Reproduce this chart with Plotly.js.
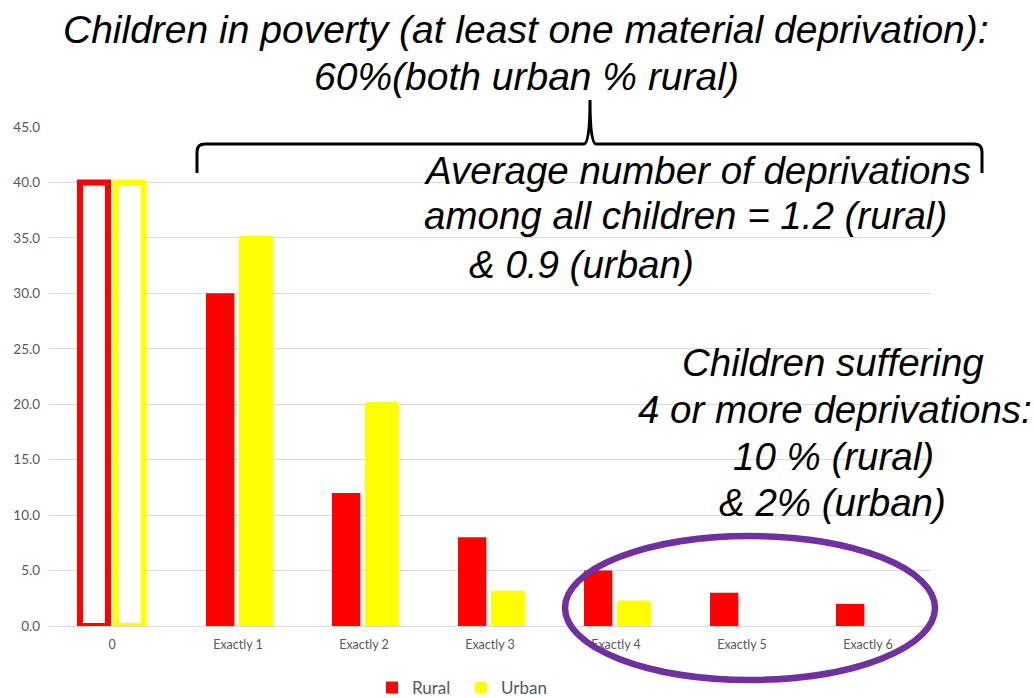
<!DOCTYPE html>
<html>
<head>
<meta charset="utf-8">
<script src="https://cdn.plot.ly/plotly-3.0.1.min.js"></script>
<style>html,body{margin:0;padding:0;background:#fff;}#chart{width:1034px;height:698px;}</style>
</head>
<body>
<div id="chart"></div>
<script>
// ---- data ----
const categories = ['0', 'Exactly 1', 'Exactly 2', 'Exactly 3', 'Exactly 4', 'Exactly 5', 'Exactly 6'];
const rural = [40.0, 30.0, 12.0, 8.0, 5.0, 3.0, 2.0];
const urban = [40.0, 35.2, 20.2, 3.2, 2.3, 0, 0];
const seriesNames = ['Rural', 'Urban'];
const titleLines = ['Children in poverty (at least one material deprivation):', '60%(both urban % rural)'];
const avgLines = ['Average number of deprivations', 'among all children = 1.2 (rural)', '& 0.9 (urban)'];
const sufferLines = ['Children suffering', '4 or more deprivations:', '10 % (rural)', '& 2% (urban)'];
const yTicks = [0, 5, 10, 15, 20, 25, 30, 35, 40, 45];

// ---- layout geometry (pixels of the 1034x698 picture) ----
const W = 1034, H = 698;
const L = 49, R = 931, T = 127, B = 626;
const px = v => (v - L) / (R - L);
const py = v => (B - v) / (B - T);

const RED = '#FF0000', YEL = '#FFFF00', GRID = '#D9D9D9', TXT = '#595959';
const bigFont = {family: 'Liberation Sans, Arial, sans-serif', size: 38.5, color: '#000', style: 'italic'};
const titleFont = Object.assign({}, bigFont, {size: 39});

const traces = [
  {type: 'bar', name: seriesNames[0], x: categories.slice(1), y: rural.slice(1),
   marker: {color: RED}, width: 0.225, offset: -0.254, legend: 'legend', hoverinfo: 'skip'},
  {type: 'bar', name: seriesNames[1], x: categories.slice(1), y: urban.slice(1),
   marker: {color: YEL, cornerradius: 3}, width: 0.272, offset: 0.008, legend: 'legend2', hoverinfo: 'skip'},
  {type: 'bar', name: seriesNames[0], x: categories.slice(0, 1), y: rural.slice(0, 1), showlegend: false,
   marker: {color: '#FFFFFF', line: {color: RED, width: 6}}, width: 0.222, offset: -0.254, hoverinfo: 'skip'},
  {type: 'bar', name: seriesNames[1], x: categories.slice(0, 1), y: urban.slice(0, 1), showlegend: false,
   marker: {color: '#FFFFFF', line: {color: YEL, width: 6}}, width: 0.222, offset: 0.030, hoverinfo: 'skip'}
];

function line(text, cx, cy, font) {
  return {xref: 'paper', yref: 'paper', x: px(cx), y: py(cy), xanchor: 'center', yanchor: 'middle',
          text: text, showarrow: false, font: font || bigFont};
}

const annotations = [
  line(titleLines[0], 526, 30, titleFont),
  line(titleLines[1], 526, 77, titleFont),
  line(avgLines[0], 697, 170),
  line(avgLines[1], 685, 216),
  line(avgLines[2], 581, 264),
  line(sufferLines[0], 833, 362),
  line(sufferLines[1], 835, 409),
  line(sufferLines[2], 833, 456),
  line(sufferLines[3], 832, 502)
];

function pt(x, y) { return px(x).toFixed(5) + ',' + py(y).toFixed(5); }
const bracePath =
  'M' + pt(197, 173) + ' L' + pt(197, 152) + ' Q' + pt(197, 144) + ' ' + pt(205, 144) +
  ' L' + pt(584, 144) + ' Q' + pt(590, 144) + ' ' + pt(590, 100) +
  ' Q' + pt(590, 144) + ' ' + pt(596, 144) +
  ' L' + pt(974, 144) + ' Q' + pt(982, 144) + ' ' + pt(982, 152) + ' L' + pt(982, 173);

const shapes = [
  {type: 'path', xref: 'paper', yref: 'paper', path: bracePath, line: {color: '#000', width: 3}},
  {type: 'circle', xref: 'paper', yref: 'paper', x0: px(565), x1: px(935), y0: py(680), y1: py(536),
   line: {color: '#7030A0', width: 6.5}, layer: 'above'}
];

const layout = {
  width: W, height: H,
  margin: {l: L, r: W - R, t: T, b: H - B, pad: 0, autoexpand: false},
  paper_bgcolor: '#FFFFFF', plot_bgcolor: '#FFFFFF',
  showlegend: true,
  barmode: 'group',
  font: {family: 'Lato, Open Sans, sans-serif', color: TXT},
  xaxis: {type: 'category', categoryorder: 'array', categoryarray: categories, range: [-0.5, 6.5],
          showgrid: false, showline: false, zeroline: false, ticks: '', automargin: false,
          ticklabelstandoff: 9, tickfont: {size: 12.5, color: TXT}, fixedrange: true},
  yaxis: {range: [0, 45], tickvals: yTicks, tickformat: '.1f', showgrid: true, gridcolor: GRID, gridwidth: 1,
          zeroline: true, zerolinecolor: GRID, zerolinewidth: 1, showline: false, ticks: '', automargin: false,
          ticklabelstandoff: 8, tickfont: {size: 13.5, color: TXT}, fixedrange: true},
  legend: {orientation: 'h', x: px(372), xanchor: 'left', y: py(688), yanchor: 'middle',
           font: {size: 17, color: TXT}, bgcolor: 'rgba(0,0,0,0)'},
  legend2: {orientation: 'h', x: px(461), xanchor: 'left', y: py(688), yanchor: 'middle',
            font: {size: 17, color: TXT}, bgcolor: 'rgba(0,0,0,0)'},
  annotations: annotations,
  shapes: shapes
};

Plotly.newPlot('chart', traces, layout, {displayModeBar: false, staticPlot: true});
</script>
</body>
</html>
